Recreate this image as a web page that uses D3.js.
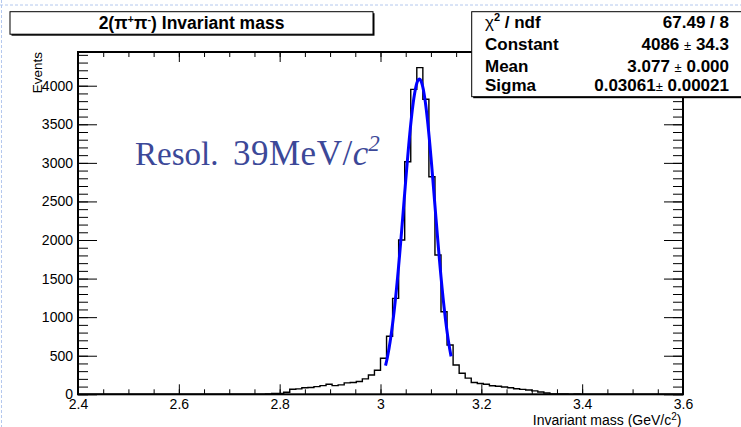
<!DOCTYPE html>
<html>
<head>
<meta charset="utf-8">
<script src="https://cdn.jsdelivr.net/npm/d3@7"></script>
<style>
  body { margin: 0; background: #fff; overflow: hidden; }
  svg { display: block; font-family: "Liberation Sans", Arial, Helvetica, sans-serif; }
</style>
</head>
<body>
<div class="chart-container"></div>
<script>
// histogram: 100 bins from 2.4 to 3.6 GeV/c^2
var binLow = 2.4;
var binWidth = 0.012;
var counts = [
  0, 0, 0, 0, 0, 0, 0, 0, 0, 0,
  0, 0, 0, 0, 0, 0, 0, 0, 0, 0,
  0, 0, 0, 0, 0, 0, 0, 0, 0, 0,
  0, 3, 10, 12, 26, 66, 70, 84, 88, 99,
  112, 130, 112, 122, 148, 152, 165, 200, 250, 312,
  467, 752, 1244, 2000, 3015, 3953, 4235, 3824, 2820, 1805,
  1071, 639, 380, 272, 210, 152, 140, 130, 110, 104,
  95, 84, 72, 64, 55, 44, 30, 16, 6, 4,
  3, 2, 3, 0, 0, 0, 0, 0, 0, 0,
  0, 0, 0, 0, 0, 0, 0, 0, 0, 0
];

var xTickValues = [2.4, 2.6, 2.8, 3.0, 3.2, 3.4, 3.6];
var xTickLabels = ['2.4', '2.6', '2.8', '3', '3.2', '3.4', '3.6'];
var yTickValues = [0, 500, 1000, 1500, 2000, 2500, 3000, 3500, 4000];

// gaussian fit result
var fitConstant = 4086;
var fitMean = 3.077;
var fitSigma = 0.03061;
var fitRange = [3.01, 3.14];

var statNames = ['Constant', 'Mean', 'Sigma'];
var statValues = [['4086', '34.3'], ['3.077', '0.000'], ['0.03061', '0.00021']];
var chiLabel = '67.49 / 8';

var width = 741, height = 427;
var frame = {left: 78, right: 683, top: 52, bottom: 394.3};

var svg = d3.select('.chart-container').append('svg')
  .attr('width', width)
  .attr('height', height);

// slide guide lines
svg.append('line')
  .attr('x1', 0).attr('x2', width).attr('y1', 5).attr('y2', 5)
  .style('stroke', '#b4c8ee').style('stroke-width', 1).style('stroke-dasharray', '3,2');
svg.append('line')
  .attr('x1', 1.5).attr('x2', 1.5).attr('y1', 0).attr('y2', height)
  .style('stroke', '#b4c8ee').style('stroke-width', 1).style('stroke-dasharray', '3,2');

var x = d3.scaleLinear()
  .domain([2.4, 3.6])
  .range([frame.left, frame.right]);

var y = d3.scaleLinear()
  .domain([0, 4437])
  .range([frame.bottom, frame.top]);

// minor ticks
var xMinor = d3.range(2.4, 3.6001, 0.05);
var yMinor = d3.range(0, 4401, 100);

function tickAxis(axis, transform) {
  var g = svg.append('g').attr('transform', transform).call(axis);
  g.select('.domain').remove();
  g.selectAll('line').style('stroke', '#000').style('stroke-width', 1);
  return g;
}

tickAxis(d3.axisBottom(x).tickValues(xMinor).tickSize(-5).tickFormat(''), `translate(0,${frame.bottom})`);
tickAxis(d3.axisTop(x).tickValues(xMinor).tickSize(-5).tickFormat(''), `translate(0,${frame.top})`);
tickAxis(d3.axisTop(x).tickValues(xTickValues).tickSize(-10).tickFormat(''), `translate(0,${frame.top})`);
tickAxis(d3.axisLeft(y).tickValues(yMinor).tickSize(-10).tickFormat(''), `translate(${frame.left},0)`);
tickAxis(d3.axisRight(y).tickValues(yMinor).tickSize(-10).tickFormat(''), `translate(${frame.right},0)`);
tickAxis(d3.axisRight(y).tickValues(yTickValues).tickSize(-19).tickFormat(''), `translate(${frame.right},0)`);

var gX = tickAxis(d3.axisBottom(x)
    .tickValues(xTickValues)
    .tickSize(-10)
    .tickPadding(5)
    .tickFormat((d, i) => xTickLabels[i]),
  `translate(0,${frame.bottom})`);
gX.selectAll('text')
  .style('font-family', '"Liberation Sans", Arial, sans-serif')
  .style('font-size', '14px')
  .style('fill', '#000');

var gY = tickAxis(d3.axisLeft(y)
    .tickValues(yTickValues)
    .tickSize(-19)
    .tickPadding(5)
    .tickFormat(d3.format('d')),
  `translate(${frame.left},0)`);
gY.selectAll('text')
  .style('font-family', '"Liberation Sans", Arial, sans-serif')
  .style('font-size', '14px')
  .style('fill', '#000');

// histogram outline
var pts = [[binLow, 0]];
counts.forEach(function(c, i) {
  var lo = binLow + i * binWidth;
  pts.push([lo, c]);
  pts.push([lo + binWidth, c]);
});
pts.push([binLow + counts.length * binWidth, 0]);

var line = d3.line()
  .x(d => x(d[0]))
  .y(d => y(d[1]));

svg.append('path')
  .datum(pts)
  .attr('d', line)
  .style('fill', 'none')
  .style('stroke', '#000')
  .style('stroke-width', 1.4);

// gaussian fit
var fitPts = d3.range(fitRange[0], fitRange[1] + 1e-9, 0.001).map(function(m) {
  var t = (m - fitMean) / fitSigma;
  return [m, fitConstant * Math.exp(-0.5 * t * t)];
});

svg.append('path')
  .datum(fitPts)
  .attr('d', line)
  .style('fill', 'none')
  .style('stroke', '#0000ff')
  .style('stroke-width', 3);

// frame
svg.append('rect')
  .attr('x', frame.left)
  .attr('y', frame.top)
  .attr('width', frame.right - frame.left)
  .attr('height', frame.bottom - frame.top)
  .style('fill', 'none')
  .style('stroke', '#000')
  .style('stroke-width', 2);

// axis titles
svg.append('text')
  .attr('transform', 'translate(42,52) rotate(-90)')
  .attr('text-anchor', 'end')
  .style('font-size', '13.5px')
  .text('Events');

var xt = svg.append('text')
  .attr('x', 681.5)
  .attr('y', 424.5)
  .attr('text-anchor', 'end')
  .style('font-size', '14px');
xt.append('tspan').text('Invariant mass (GeV/c');
xt.append('tspan').attr('dy', -5).style('font-size', '10px').text('2');
xt.append('tspan').attr('dy', 5).text(')');

// title box
svg.append('rect')
  .attr('x', 11.5).attr('y', 13.2).attr('width', 363).attr('height', 22.5)
  .style('fill', '#000');
svg.append('rect')
  .attr('x', 10).attr('y', 11.7).attr('width', 363).attr('height', 22.5)
  .style('fill', '#fff').style('stroke', '#000').style('stroke-width', 1);

var title = svg.append('text')
  .attr('x', 191.5)
  .attr('y', 28.5)
  .attr('text-anchor', 'middle')
  .style('font-size', '17.5px')
  .style('font-weight', 'bold');
title.append('tspan').text('2(\u03c0');
title.append('tspan').attr('dy', -6).style('font-size', '11px').text('+');
title.append('tspan').attr('dy', 6).text('\u03c0');
title.append('tspan').attr('dy', -6).style('font-size', '11px').text('-');
title.append('tspan').attr('dy', 6).text(') Invariant mass');

// stats box
svg.append('rect')
  .attr('x', 473.2).attr('y', 13.2).attr('width', 300).attr('height', 85)
  .style('fill', '#000');
svg.append('rect')
  .attr('x', 471.7).attr('y', 11.7).attr('width', 300).attr('height', 85)
  .style('fill', '#fff').style('stroke', '#000').style('stroke-width', 1);

var stats = svg.append('g')
  .style('font-size', '17px')
  .style('font-weight', 'bold');

var rowY = [28, 50, 71.5, 91];
var labelX = 485, valueX = 729;

var chi = stats.append('text').attr('x', labelX).attr('y', rowY[0]);
chi.append('tspan').style('font-weight', 'normal').text('\u03c7');
chi.append('tspan').attr('dy', -7).style('font-size', '11px').text('2');
chi.append('tspan').attr('dy', 7).text(' / ndf');

stats.append('text')
  .attr('x', valueX).attr('y', rowY[0])
  .attr('text-anchor', 'end')
  .text(chiLabel);

statNames.forEach(function(name, i) {
  stats.append('text')
    .attr('x', labelX).attr('y', rowY[i + 1])
    .text(name);
  var v = stats.append('text')
    .attr('x', valueX).attr('y', rowY[i + 1])
    .attr('text-anchor', 'end');
  v.append('tspan').text(statValues[i][0] + (i === 2 ? '' : ' '));
  v.append('tspan').style('font-weight', 'normal').style('font-size', '13px').text('\u00b1');
  v.append('tspan').text(' ' + statValues[i][1]);
});

// resolution note
var note = svg.append('text')
  .attr('y', 165)
  .style('font-family', '"Liberation Serif", "Times New Roman", serif')
  .style('font-size', '33px')
  .style('fill', '#3c4898');
note.append('tspan').attr('x', 135).text('Resol.');
note.append('tspan').attr('x', 233).style('font-size', '35px').style('letter-spacing', '0.5px').text('39MeV/');
note.append('tspan').style('font-size', '35px').style('font-style', 'italic').text('c');
note.append('tspan').attr('dy', -14).style('font-size', '23px').style('font-style', 'italic').text('2');
</script>
</body>
</html>
